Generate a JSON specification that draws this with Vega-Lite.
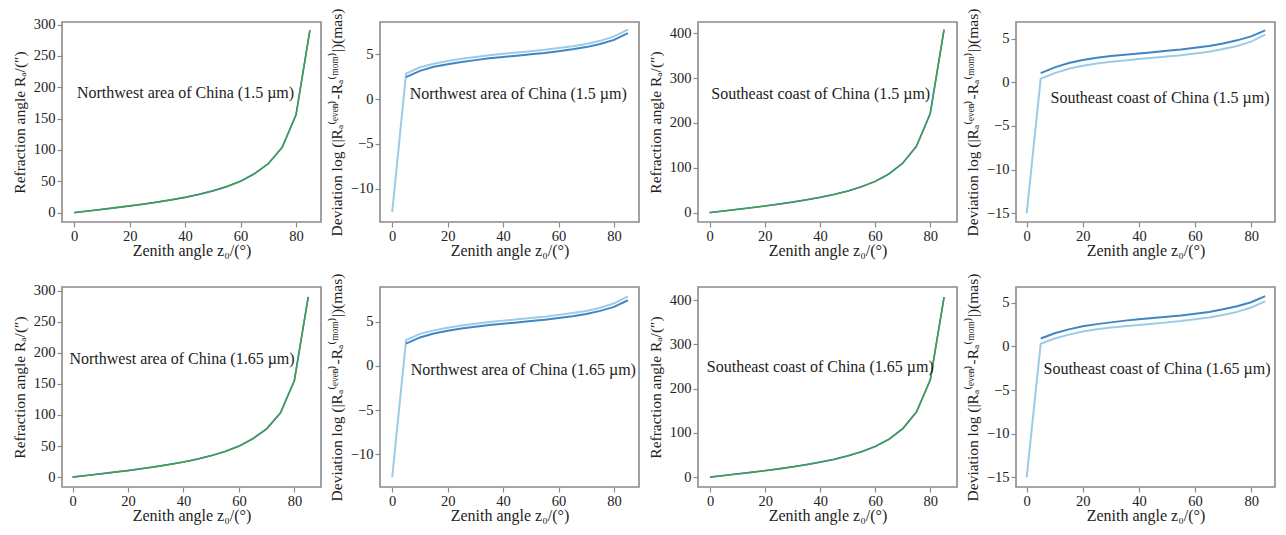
{
  "$schema": "https://vega.github.io/schema/vega-lite/v6.json",
  "background": "white",
  "padding": {"left": 11, "top": 7, "right": 5, "bottom": 5},
  "config": {
    "font": "Liberation Serif",
    "view": {"stroke": "#8a8a8a", "strokeWidth": 1.6},
    "axis": {"domain": false, "grid": false, "tickColor": "#8a8a8a", "tickSize": 5, "tickWidth": 1.2,
      "labelFontSize": 14.5, "titleFontSize": 15.5, "labelColor": "#222", "titleColor": "#222",
      "titleFontWeight": "normal", "labelFont": "Liberation Serif", "titleFont": "Liberation Serif", "labelPadding": 2},
    "axisX": {"titlePadding": 0},
    "axisY": {"titlePadding": 6},
    "text": {"font": "Liberation Serif"}
  },
  "datasets": {
    "refr": [
      {"p":"nw15","z":0,"v":0},{"p":"nw15","z":5,"v":2.5},{"p":"nw15","z":10,"v":5.1},{"p":"nw15","z":15,"v":7.8},{"p":"nw15","z":20,"v":10.6},{"p":"nw15","z":25,"v":13.6},{"p":"nw15","z":30,"v":16.8},{"p":"nw15","z":35,"v":20.4},{"p":"nw15","z":40,"v":24.4},{"p":"nw15","z":45,"v":29},{"p":"nw15","z":50,"v":34.6},{"p":"nw15","z":55,"v":41.4},{"p":"nw15","z":60,"v":50},{"p":"nw15","z":65,"v":62},{"p":"nw15","z":70,"v":78},{"p":"nw15","z":75,"v":104},{"p":"nw15","z":80,"v":156},{"p":"nw15","z":85,"v":291},
      {"p":"se15","z":0,"v":0},{"p":"se15","z":5,"v":3.5},{"p":"se15","z":10,"v":7.1},{"p":"se15","z":15,"v":10.8},{"p":"se15","z":20,"v":14.7},{"p":"se15","z":25,"v":18.8},{"p":"se15","z":30,"v":23.3},{"p":"se15","z":35,"v":28.3},{"p":"se15","z":40,"v":33.9},{"p":"se15","z":45,"v":40.3},{"p":"se15","z":50,"v":48},{"p":"se15","z":55,"v":57.5},{"p":"se15","z":60,"v":69.5},{"p":"se15","z":65,"v":86},{"p":"se15","z":70,"v":110},{"p":"se15","z":75,"v":148},{"p":"se15","z":80,"v":221},{"p":"se15","z":85,"v":408},
      {"p":"nw165","z":0,"v":0},{"p":"nw165","z":5,"v":2.5},{"p":"nw165","z":10,"v":5.1},{"p":"nw165","z":15,"v":7.8},{"p":"nw165","z":20,"v":10.5},{"p":"nw165","z":25,"v":13.5},{"p":"nw165","z":30,"v":16.7},{"p":"nw165","z":35,"v":20.3},{"p":"nw165","z":40,"v":24.3},{"p":"nw165","z":45,"v":28.9},{"p":"nw165","z":50,"v":34.4},{"p":"nw165","z":55,"v":41.2},{"p":"nw165","z":60,"v":49.8},{"p":"nw165","z":65,"v":61.7},{"p":"nw165","z":70,"v":77.6},{"p":"nw165","z":75,"v":103.5},{"p":"nw165","z":80,"v":155.5},{"p":"nw165","z":85,"v":290},
      {"p":"se165","z":0,"v":0},{"p":"se165","z":5,"v":3.5},{"p":"se165","z":10,"v":7.1},{"p":"se165","z":15,"v":10.8},{"p":"se165","z":20,"v":14.6},{"p":"se165","z":25,"v":18.7},{"p":"se165","z":30,"v":23.2},{"p":"se165","z":35,"v":28.2},{"p":"se165","z":40,"v":33.8},{"p":"se165","z":45,"v":40.1},{"p":"se165","z":50,"v":47.8},{"p":"se165","z":55,"v":57.3},{"p":"se165","z":60,"v":69.2},{"p":"se165","z":65,"v":85.6},{"p":"se165","z":70,"v":109.5},{"p":"se165","z":75,"v":147.5},{"p":"se165","z":80,"v":220},{"p":"se165","z":85,"v":407}
    ],
    "dev": [
      {"p":"nw15","z":0,"light":-12.6,"dark":null},{"p":"nw15","z":5,"light":2.85,"dark":2.45},{"p":"nw15","z":10,"light":3.55,"dark":3.15},{"p":"nw15","z":15,"light":3.95,"dark":3.6},{"p":"nw15","z":20,"light":4.25,"dark":3.9},{"p":"nw15","z":25,"light":4.5,"dark":4.15},{"p":"nw15","z":30,"light":4.7,"dark":4.35},{"p":"nw15","z":35,"light":4.9,"dark":4.55},{"p":"nw15","z":40,"light":5.05,"dark":4.7},{"p":"nw15","z":45,"light":5.2,"dark":4.85},{"p":"nw15","z":50,"light":5.35,"dark":5.0},{"p":"nw15","z":55,"light":5.5,"dark":5.15},{"p":"nw15","z":60,"light":5.7,"dark":5.35},{"p":"nw15","z":65,"light":5.9,"dark":5.55},{"p":"nw15","z":70,"light":6.15,"dark":5.8},{"p":"nw15","z":75,"light":6.5,"dark":6.15},{"p":"nw15","z":80,"light":7.0,"dark":6.6},{"p":"nw15","z":85,"light":7.75,"dark":7.35},
      {"p":"se15","z":0,"light":-15,"dark":null},{"p":"se15","z":5,"light":0.4,"dark":1.05},{"p":"se15","z":10,"light":1.05,"dark":1.7},{"p":"se15","z":15,"light":1.55,"dark":2.2},{"p":"se15","z":20,"light":1.9,"dark":2.55},{"p":"se15","z":25,"light":2.15,"dark":2.8},{"p":"se15","z":30,"light":2.35,"dark":3.0},{"p":"se15","z":35,"light":2.5,"dark":3.15},{"p":"se15","z":40,"light":2.65,"dark":3.3},{"p":"se15","z":45,"light":2.8,"dark":3.45},{"p":"se15","z":50,"light":2.95,"dark":3.6},{"p":"se15","z":55,"light":3.1,"dark":3.75},{"p":"se15","z":60,"light":3.3,"dark":3.95},{"p":"se15","z":65,"light":3.5,"dark":4.15},{"p":"se15","z":70,"light":3.8,"dark":4.45},{"p":"se15","z":75,"light":4.15,"dark":4.8},{"p":"se15","z":80,"light":4.65,"dark":5.25},{"p":"se15","z":85,"light":5.45,"dark":5.95},
      {"p":"nw165","z":0,"light":-12.6,"dark":null},{"p":"nw165","z":5,"light":2.9,"dark":2.5},{"p":"nw165","z":10,"light":3.6,"dark":3.2},{"p":"nw165","z":15,"light":4.0,"dark":3.65},{"p":"nw165","z":20,"light":4.3,"dark":3.95},{"p":"nw165","z":25,"light":4.55,"dark":4.2},{"p":"nw165","z":30,"light":4.75,"dark":4.4},{"p":"nw165","z":35,"light":4.95,"dark":4.6},{"p":"nw165","z":40,"light":5.1,"dark":4.75},{"p":"nw165","z":45,"light":5.25,"dark":4.9},{"p":"nw165","z":50,"light":5.4,"dark":5.05},{"p":"nw165","z":55,"light":5.55,"dark":5.2},{"p":"nw165","z":60,"light":5.75,"dark":5.4},{"p":"nw165","z":65,"light":5.95,"dark":5.6},{"p":"nw165","z":70,"light":6.2,"dark":5.85},{"p":"nw165","z":75,"light":6.55,"dark":6.2},{"p":"nw165","z":80,"light":7.05,"dark":6.65},{"p":"nw165","z":85,"light":7.85,"dark":7.4},
      {"p":"se165","z":0,"light":-15,"dark":null},{"p":"se165","z":5,"light":0.3,"dark":0.9},{"p":"se165","z":10,"light":0.9,"dark":1.5},{"p":"se165","z":15,"light":1.35,"dark":1.95},{"p":"se165","z":20,"light":1.7,"dark":2.3},{"p":"se165","z":25,"light":1.95,"dark":2.55},{"p":"se165","z":30,"light":2.15,"dark":2.75},{"p":"se165","z":35,"light":2.3,"dark":2.95},{"p":"se165","z":40,"light":2.45,"dark":3.1},{"p":"se165","z":45,"light":2.6,"dark":3.25},{"p":"se165","z":50,"light":2.75,"dark":3.4},{"p":"se165","z":55,"light":2.9,"dark":3.55},{"p":"se165","z":60,"light":3.1,"dark":3.75},{"p":"se165","z":65,"light":3.3,"dark":3.95},{"p":"se165","z":70,"light":3.6,"dark":4.25},{"p":"se165","z":75,"light":3.95,"dark":4.6},{"p":"se165","z":80,"light":4.45,"dark":5.05},{"p":"se165","z":85,"light":5.15,"dark":5.75}
    ]
  },
  "columns": 4,
  "spacing": {"row": 65, "column": 59},
  "bounds": "flush",
  "concat": [
    {
      "width": 259, "height": 200,
      "encoding": {
        "x": {"field": "z", "type": "quantitative", "scale": {"domain": [-4.4, 89], "nice": false, "zero": false}, "axis": {"values": [0, 20, 40, 60, 80], "title": "Zenith angle z₀/(°)", "titleFontSize": 16}},
        "y": {"field": "v", "type": "quantitative", "scale": {"domain": [-15, 304], "nice": false, "zero": false}, "axis": {"values": [0, 50, 100, 150, 200, 250, 300], "title": "Refraction angle Rₐ/(″)"}}
      },
      "layer": [
        {"data": {"name": "refr"}, "transform": [{"filter": "datum.p === 'nw15'"}], "mark": {"type": "line", "color": "#3a7dc0", "strokeWidth": 1.7}},
        {"data": {"name": "refr"}, "transform": [{"filter": "datum.p === 'nw15'"}], "mark": {"type": "line", "color": "#43a047", "strokeWidth": 1.4}},
        {"data": {"values": [{"z": 1, "v": 191, "t": "Northwest area of China (1.5 µm)"}]}, "mark": {"type": "text", "align": "left", "baseline": "middle", "fontSize": 16, "color": "#222"}, "encoding": {"text": {"field": "t"}}}
      ]
    },
    {
      "width": 259, "height": 200,
      "encoding": {
        "x": {"field": "z", "type": "quantitative", "scale": {"domain": [-4.4, 89], "nice": false, "zero": false}, "axis": {"values": [0, 20, 40, 60, 80], "title": "Zenith angle z₀/(°)", "titleFontSize": 16}}
      },
      "layer": [
        {"data": {"name": "dev"}, "transform": [{"filter": "datum.p === 'nw15'"}], "mark": {"type": "line", "color": "#9ccbe8", "strokeWidth": 2}, "encoding": {"y": {"field": "light", "type": "quantitative", "scale": {"domain": [-13.7, 8.6], "nice": false, "zero": false}, "axis": {"values": [-10, -5, 0, 5], "title": "Deviation log (|Rₐ⁽ᵉᵛᵉⁿ⁾-Rₐ⁽ᵐᵒᵐ⁾|)(mas)"}}}},
        {"data": {"name": "dev"}, "transform": [{"filter": "datum.p === 'nw15'"}], "mark": {"type": "line", "color": "#3f86c4", "strokeWidth": 2}, "encoding": {"y": {"field": "dark", "type": "quantitative"}}},
        {"data": {"values": [{"z": 6.3, "v": 0.55, "t": "Northwest area of China (1.5 µm)"}]}, "mark": {"type": "text", "align": "left", "baseline": "middle", "fontSize": 16, "color": "#222"}, "encoding": {"y": {"field": "v", "type": "quantitative"}, "text": {"field": "t"}}}
      ]
    },
    {
      "width": 259, "height": 200,
      "encoding": {
        "x": {"field": "z", "type": "quantitative", "scale": {"domain": [-4.2, 89.7], "nice": false, "zero": false}, "axis": {"values": [0, 20, 40, 60, 80], "title": "Zenith angle z₀/(°)", "titleFontSize": 16}},
        "y": {"field": "v", "type": "quantitative", "scale": {"domain": [-21, 425], "nice": false, "zero": false}, "axis": {"values": [0, 100, 200, 300, 400], "title": "Refraction angle Rₐ/(″)"}}
      },
      "layer": [
        {"data": {"name": "refr"}, "transform": [{"filter": "datum.p === 'se15'"}], "mark": {"type": "line", "color": "#3a7dc0", "strokeWidth": 1.7}},
        {"data": {"name": "refr"}, "transform": [{"filter": "datum.p === 'se15'"}], "mark": {"type": "line", "color": "#43a047", "strokeWidth": 1.4}},
        {"data": {"values": [{"z": 0.6, "v": 265, "t": "Southeast coast of China (1.5 µm)"}]}, "mark": {"type": "text", "align": "left", "baseline": "middle", "fontSize": 16, "color": "#222"}, "encoding": {"text": {"field": "t"}}}
      ]
    },
    {
      "width": 259, "height": 200,
      "encoding": {
        "x": {"field": "z", "type": "quantitative", "scale": {"domain": [-3.8, 88.5], "nice": false, "zero": false}, "axis": {"values": [0, 20, 40, 60, 80], "title": "Zenith angle z₀/(°)", "titleFontSize": 16}}
      },
      "layer": [
        {"data": {"name": "dev"}, "transform": [{"filter": "datum.p === 'se15'"}], "mark": {"type": "line", "color": "#9ccbe8", "strokeWidth": 2}, "encoding": {"y": {"field": "light", "type": "quantitative", "scale": {"domain": [-16, 6.9], "nice": false, "zero": false}, "axis": {"values": [-15, -10, -5, 0, 5], "title": "Deviation log (|Rₐ⁽ᵉᵛᵉⁿ⁾-Rₐ⁽ᵐᵒᵐ⁾|)(mas)"}}}},
        {"data": {"name": "dev"}, "transform": [{"filter": "datum.p === 'se15'"}], "mark": {"type": "line", "color": "#3f86c4", "strokeWidth": 2}, "encoding": {"y": {"field": "dark", "type": "quantitative"}}},
        {"data": {"values": [{"z": 8.5, "v": -1.85, "t": "Southeast coast of China (1.5 µm)"}]}, "mark": {"type": "text", "align": "left", "baseline": "middle", "fontSize": 16, "color": "#222"}, "encoding": {"y": {"field": "v", "type": "quantitative"}, "text": {"field": "t"}}}
      ]
    },
    {
      "width": 259, "height": 200,
      "encoding": {
        "x": {"field": "z", "type": "quantitative", "scale": {"domain": [-3.8, 89.6], "nice": false, "zero": false}, "axis": {"values": [0, 20, 40, 60, 80], "title": "Zenith angle z₀/(°)", "titleFontSize": 16}},
        "y": {"field": "v", "type": "quantitative", "scale": {"domain": [-16, 306], "nice": false, "zero": false}, "axis": {"values": [0, 50, 100, 150, 200, 250, 300], "title": "Refraction angle Rₐ/(″)"}}
      },
      "layer": [
        {"data": {"name": "refr"}, "transform": [{"filter": "datum.p === 'nw165'"}], "mark": {"type": "line", "color": "#3a7dc0", "strokeWidth": 1.7}},
        {"data": {"name": "refr"}, "transform": [{"filter": "datum.p === 'nw165'"}], "mark": {"type": "line", "color": "#43a047", "strokeWidth": 1.4}},
        {"data": {"values": [{"z": -1.1, "v": 190, "t": "Northwest area of China (1.65 µm)"}]}, "mark": {"type": "text", "align": "left", "baseline": "middle", "fontSize": 16, "color": "#222"}, "encoding": {"text": {"field": "t"}}}
      ]
    },
    {
      "width": 259, "height": 200,
      "encoding": {
        "x": {"field": "z", "type": "quantitative", "scale": {"domain": [-4.4, 89], "nice": false, "zero": false}, "axis": {"values": [0, 20, 40, 60, 80], "title": "Zenith angle z₀/(°)", "titleFontSize": 16}}
      },
      "layer": [
        {"data": {"name": "dev"}, "transform": [{"filter": "datum.p === 'nw165'"}], "mark": {"type": "line", "color": "#9ccbe8", "strokeWidth": 2}, "encoding": {"y": {"field": "light", "type": "quantitative", "scale": {"domain": [-13.7, 8.9], "nice": false, "zero": false}, "axis": {"values": [-10, -5, 0, 5], "title": "Deviation log (|Rₐ⁽ᵉᵛᵉⁿ⁾-Rₐ⁽ᵐᵒᵐ⁾|)(mas)"}}}},
        {"data": {"name": "dev"}, "transform": [{"filter": "datum.p === 'nw165'"}], "mark": {"type": "line", "color": "#3f86c4", "strokeWidth": 2}, "encoding": {"y": {"field": "dark", "type": "quantitative"}}},
        {"data": {"values": [{"z": 6.7, "v": -0.45, "t": "Northwest area of China (1.65 µm)"}]}, "mark": {"type": "text", "align": "left", "baseline": "middle", "fontSize": 16, "color": "#222"}, "encoding": {"y": {"field": "v", "type": "quantitative"}, "text": {"field": "t"}}}
      ]
    },
    {
      "width": 259, "height": 200,
      "encoding": {
        "x": {"field": "z", "type": "quantitative", "scale": {"domain": [-4.4, 89.7], "nice": false, "zero": false}, "axis": {"values": [0, 20, 40, 60, 80], "title": "Zenith angle z₀/(°)", "titleFontSize": 16}},
        "y": {"field": "v", "type": "quantitative", "scale": {"domain": [-22.5, 430], "nice": false, "zero": false}, "axis": {"values": [0, 100, 200, 300, 400], "title": "Refraction angle Rₐ/(″)"}}
      },
      "layer": [
        {"data": {"name": "refr"}, "transform": [{"filter": "datum.p === 'se165'"}], "mark": {"type": "line", "color": "#3a7dc0", "strokeWidth": 1.7}},
        {"data": {"name": "refr"}, "transform": [{"filter": "datum.p === 'se165'"}], "mark": {"type": "line", "color": "#43a047", "strokeWidth": 1.4}},
        {"data": {"values": [{"z": -1.2, "v": 248, "t": "Southeast coast of China (1.65 µm)"}]}, "mark": {"type": "text", "align": "left", "baseline": "middle", "fontSize": 16, "color": "#222"}, "encoding": {"text": {"field": "t"}}}
      ]
    },
    {
      "width": 259, "height": 200,
      "encoding": {
        "x": {"field": "z", "type": "quantitative", "scale": {"domain": [-3.8, 88.5], "nice": false, "zero": false}, "axis": {"values": [0, 20, 40, 60, 80], "title": "Zenith angle z₀/(°)", "titleFontSize": 16}}
      },
      "layer": [
        {"data": {"name": "dev"}, "transform": [{"filter": "datum.p === 'se165'"}], "mark": {"type": "line", "color": "#9ccbe8", "strokeWidth": 2}, "encoding": {"y": {"field": "light", "type": "quantitative", "scale": {"domain": [-16.1, 6.8], "nice": false, "zero": false}, "axis": {"values": [-15, -10, -5, 0, 5], "title": "Deviation log (|Rₐ⁽ᵉᵛᵉⁿ⁾-Rₐ⁽ᵐᵒᵐ⁾|)(mas)"}}}},
        {"data": {"name": "dev"}, "transform": [{"filter": "datum.p === 'se165'"}], "mark": {"type": "line", "color": "#3f86c4", "strokeWidth": 2}, "encoding": {"y": {"field": "dark", "type": "quantitative"}}},
        {"data": {"values": [{"z": 6, "v": -2.55, "t": "Southeast coast of China (1.65 µm)"}]}, "mark": {"type": "text", "align": "left", "baseline": "middle", "fontSize": 16, "color": "#222"}, "encoding": {"y": {"field": "v", "type": "quantitative"}, "text": {"field": "t"}}}
      ]
    }
  ]
}
